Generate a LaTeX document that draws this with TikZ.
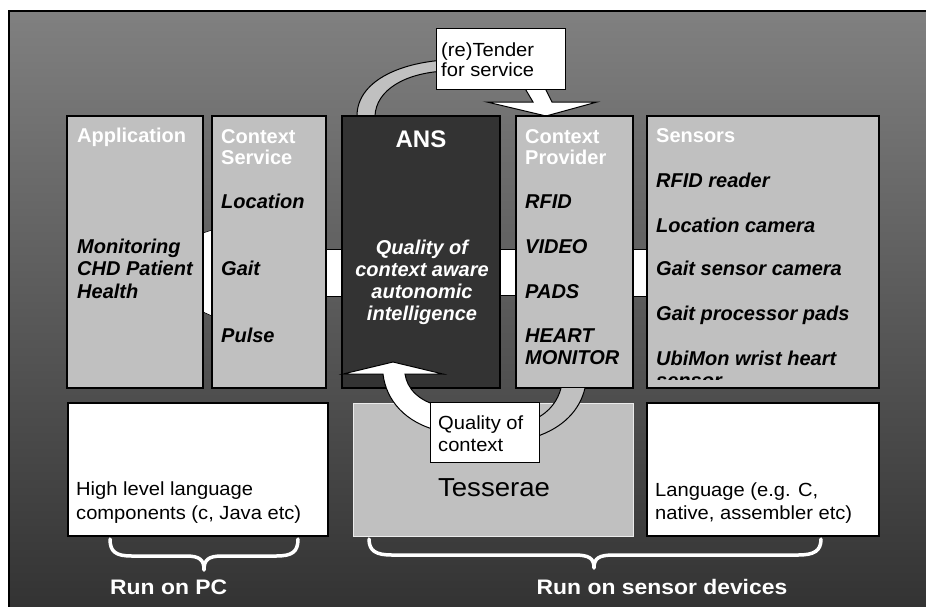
\documentclass[tikz,border=0pt]{standalone}
\usepackage{fontspec}
\setmainfont{Liberation Sans}
\newfontfamily\widefont{Liberation Sans}[FakeStretch=1.06]
\newfontfamily\runfont{Liberation Sans}[FakeStretch=1.09]
\usetikzlibrary{calc}
\definecolor{boxgray}{RGB}{192,192,192}
\definecolor{ansdark}{RGB}{51,51,51}
\definecolor{bgtop}{RGB}{128,128,128}
\definecolor{bgbot}{RGB}{50,50,50}
\definecolor{tessline}{RGB}{235,235,235}
\pgfdeclarelayer{bg}
\pgfdeclarelayer{conn}
\pgfdeclarelayer{fg}
\pgfdeclarelayer{top}
\pgfsetlayers{bg,conn,main,fg,top}
\begin{document}
\begin{tikzpicture}[x=1pt,y=-1pt,
 panel/.style={draw=black,line width=1.5pt,fill=boxgray,anchor=north west,inner sep=0pt,outer sep=0pt},
 darkpanel/.style={panel,fill=ansdark},
 whitepanel/.style={panel,fill=white},
 tesspanel/.style={panel,draw=tessline,line width=1pt},
 callout/.style={draw=black,line width=1pt,fill=white,anchor=north west,inner sep=0pt,outer sep=0pt},
 hdr/.style={text=white,font=\bfseries\fontsize{20}{24}\selectfont,anchor=base west,inner sep=0pt},
 item/.style={text=black,font=\bfseries\itshape\fontsize{20}{24}\selectfont,anchor=base west,inner sep=0pt},
 ansitem/.style={text=white,font=\bfseries\itshape\fontsize{20}{24}\selectfont,anchor=base,inner sep=0pt},
 plain/.style={text=black,font=\widefont\fontsize{19}{24}\selectfont,anchor=base west,inner sep=0pt},
 runlbl/.style={text=white,font=\runfont\bfseries\fontsize{21}{24}\selectfont,anchor=base west,inner sep=0pt},
 link/.style={fill=white,draw=black,line width=0.6pt},
 bandgray/.style={fill=boxgray,draw=black,line width=1pt},
 blockarrow/.style={fill=white,draw=black,line width=1pt},
 bracestyle/.style={draw=white,line width=3.5pt,line cap=round,line join=round}]
\useasboundingbox (0,0) rectangle (926,606);

% ---------- main boxes ----------
\node[panel,minimum width=136pt,minimum height=272pt] (app) at (67,116) {};
\node[panel,minimum width=114pt,minimum height=272pt] (cs) at (212,116) {};
\node[darkpanel,minimum width=158pt,minimum height=272pt] (ans) at (342,116) {};
\node[panel,minimum width=117pt,minimum height=272pt] (cp) at (516,116) {};
\node[panel,minimum width=232pt,minimum height=272pt] (sens) at (647,116) {};
\node[whitepanel,minimum width=260pt,minimum height=133pt] (pc) at (68,403) {};
\node[tesspanel,minimum width=280pt,minimum height=133pt] (tess) at (353,403) {};
\node[whitepanel,minimum width=232pt,minimum height=133pt] (lang) at (647,403) {};
\node[callout,minimum width=129pt,minimum height=61pt] (tender) at (436,28) {};

% ---------- texts ----------
\node[hdr] (tapp) at (77,142) {Application};
\node[item] (tapp1) at (77,253) {Monitoring};
\node[item] (tapp2) at (77,275) {CHD Patient};
\node[item] (tapp3) at (77,298) {Health};

\node[hdr] (tcs1) at (221,143) {Context};
\node[hdr] (tcs2) at (221,164) {Service};
\node[item] (tcs3) at (221,208) {Location};
\node[item] (tcs4) at (221,275) {Gait};
\node[item] (tcs5) at (221,342) {Pulse};

\node[text=white,font=\bfseries\fontsize{24}{28}\selectfont,anchor=base,inner sep=0pt] (tans) at (421,147) {ANS};
\node[ansitem] (tans1) at (422,254) {Quality of};
\node[ansitem] (tans2) at (422,276) {context aware};
\node[ansitem] (tans3) at (422,298) {autonomic};
\node[ansitem] (tans4) at (422,320) {intelligence};

\node[hdr] (tcp1) at (525,143) {Context};
\node[hdr] (tcp2) at (525,164) {Provider};
\node[item] (tcp3) at (525,208) {RFID};
\node[item] (tcp4) at (525,253) {VIDEO};
\node[item] (tcp5) at (525,298) {PADS};
\node[item] (tcp6) at (525,342) {HEART};
\node[item] (tcp7) at (525,364) {MONITOR};

\node[hdr] (ts0) at (656,142) {Sensors};
\node[item] (ts1) at (656,187) {RFID reader};
\node[item] (ts2) at (656,232) {Location camera};
\node[item] (ts3) at (656,275) {Gait sensor camera};
\node[item] (ts4) at (656,320) {Gait processor pads};
\node[item] (ts5) at (656,365) {UbiMon wrist heart};
\begin{scope}
\clip (650,368) rectangle (876,379);
\node[item] (ts6) at (656,387) {sensor};
\end{scope}

\node[plain] (tpc1) at (76,495) {High level language};
\node[plain] (tpc2) at (76,519) {components (c, Java etc)};
\node[text=black,font=\widefont\fontsize{26}{30}\selectfont,anchor=base,inner sep=0pt] (ttess) at (494,496) {Tesserae};
\node[plain] (tlang1) at (655,496) {Language (e.g. C,};
\node[plain] (tlang2) at (655,519) {native, assembler etc)};

\node[plain] (ttender1) at (441,56) {(re)Tender};
\node[plain] (ttender2) at (441,76) {for service};

% ---------- braces and run labels ----------
\draw[bracestyle] (110,539) .. controls (110,552) and (116,556) .. (132,556) -- (186,556) .. controls (200,556) and (204,560) .. (204,570) .. controls (204,560) and (208,556) .. (222,556) -- (276,556) .. controls (292,556) and (298,552) .. (298,539);
\draw[bracestyle] (369,539) .. controls (369,551) and (376,555) .. (392,555) -- (574,555) .. controls (589,555) and (594,558) .. (594,568) .. controls (594,558) and (599,555) .. (614,555) -- (798,555) .. controls (814,555) and (821,551) .. (821,539);
\node[runlbl] (trun1) at (110,594) {Run on PC};
\node[runlbl,anchor=base] (trun2) at (662,594) {Run on sensor devices};

% ---------- background frame ----------
\begin{pgfonlayer}{bg}
\fill[white] (0,0) rectangle (926,606);
\shade[top color=bgtop,bottom color=bgbot] (9,10.7) rectangle (940,615);
\draw[black,line width=2pt] (9,615) -- (9,10.7) -- (940,10.7);
\end{pgfonlayer}

% ---------- connectors under the boxes ----------
\begin{pgfonlayer}{conn}
\path[link] (app.east |- 0,233) .. controls ($(app.east |- 0,232)+(4,-1)$) .. (cs.west |- 0,230) -- (cs.west |- 0,316) .. controls ($(app.east |- 0,313)+(4,1)$) .. (app.east |- 0,312) -- cycle;
\path[link] (cs.east |- 0,249) rectangle (ans.west |- 0,296);
\path[link] (ans.east |- 0,249) rectangle (cp.west |- 0,295);
\path[link] (cp.east |- 0,249) rectangle (sens.west |- 0,296);
\path[bandgray] (357,124) -- (357,116) .. controls (357,82) and (398,63) .. (445,60) -- (445,71) .. controls (405,73) and (376,90) .. (375,116) -- (375,124) -- cycle;
\path[blockarrow] (520,80) -- (533,102) -- (487,102) -- (546,116) -- (597,102) -- (552,102) -- (541,80) -- cycle;
\end{pgfonlayer}

% ---------- quality of context feedback ----------
\begin{pgfonlayer}{fg}
\path[blockarrow] (343,374) -- (393,362) -- (443,374) -- (405,374) .. controls (407,388) and (418,401) .. (440,406) -- (440,431) .. controls (405,423) and (386,400) .. (383,374) -- cycle;
\path[bandgray] (561,388) .. controls (558,400) and (550,412) .. (535,419) -- (535,437) .. controls (563,428) and (580,410) .. (585,388);
\end{pgfonlayer}
\begin{pgfonlayer}{top}
\node[callout,minimum width=109pt,minimum height=60pt] (qoc) at (430,402) {};
\node[plain] (tqoc1) at (438,429) {Quality of};
\node[plain] (tqoc2) at (438,451) {context};
\end{pgfonlayer}
\end{tikzpicture}
\end{document}
